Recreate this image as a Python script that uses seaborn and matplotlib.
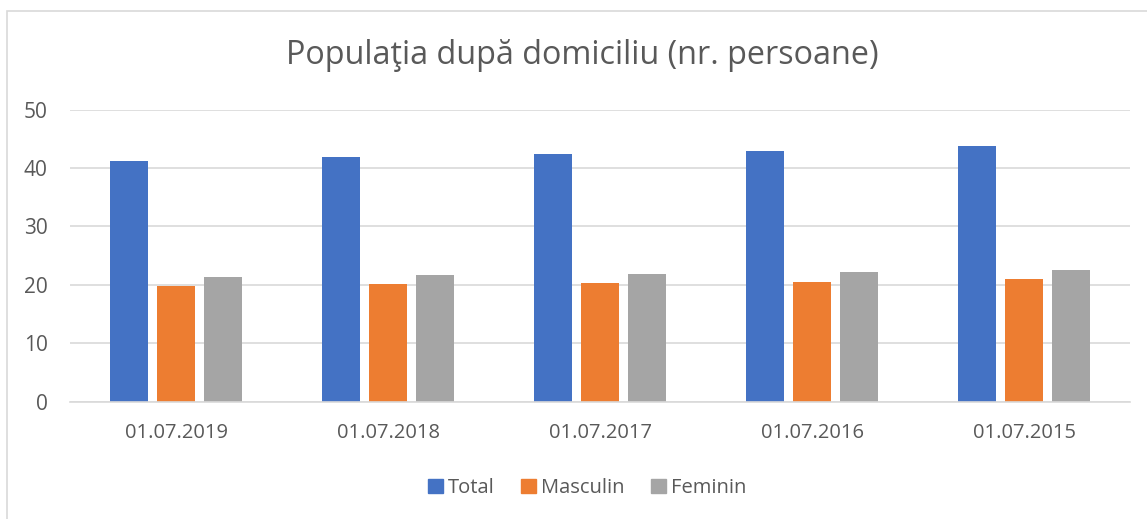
import pandas as pd
import matplotlib.pyplot as plt
import seaborn as sns
from matplotlib.patches import Rectangle

# Data
dates = ['01.07.2019', '01.07.2018', '01.07.2017', '01.07.2016', '01.07.2015']
total = [41.2, 41.85, 42.4, 42.9, 43.8]
masculin = [19.8, 20.1, 20.3, 20.55, 21.0]
feminin = [21.3, 21.6, 21.9, 22.2, 22.55]

series = ['Total', 'Masculin', 'Feminin']
colors = ['#4472c4', '#ed7d31', '#a5a5a5']

df = pd.DataFrame({'Data': dates * 3,
                   'Serie': [s for s in series for _ in dates],
                   'Valoare': total + masculin + feminin})

sns.set_style('white')
plt.rcParams['font.family'] = ['Open Sans', 'DejaVu Sans']
text_color = '#595959'

fig = plt.figure(figsize=(11.47, 5.19), dpi=100)
ax = fig.add_axes([70 / 1147, 1 - 401.7 / 519, 1060 / 1147, 292.2 / 519])

sns.barplot(data=df, x='Data', y='Valoare', hue='Serie', hue_order=series,
            palette=colors, width=0.668, gap=0.2, saturation=1,
            linewidth=0, ax=ax, legend=False)

ax.set_ylim(0, 50)
ax.set_yticks(range(0, 51, 10))
ax.set_xlim(-0.5, 4.5)
ax.yaxis.grid(True, color='#d9d9d9', linewidth=1.2)
ax.set_axisbelow(True)
for side in ['left', 'right', 'top']:
    ax.spines[side].set_visible(False)
ax.spines['bottom'].set_color('#d9d9d9')
ax.spines['bottom'].set_linewidth(1.2)
ax.set_xlabel('')
ax.set_ylabel('')
ax.tick_params(axis='both', length=0, labelsize=15, colors=text_color)
ax.tick_params(axis='x', labelsize=14.5, pad=15)
ax.tick_params(axis='y', pad=16)

fig.text(0.508, 1 - 56 / 519, 'Populaţia după domiciliu (nr. persoane)',
         ha='center', va='center', fontsize=23.3, color=text_color)

handles = [Rectangle((0, 0), 1, 1, color=c) for c in colors]
fig.legend(handles, series, loc='center', bbox_to_anchor=(0.512, 1 - 488 / 519),
           ncol=3, frameon=False, fontsize=14.5, handlelength=0.75, handleheight=0.75,
           handletextpad=0.25, columnspacing=1.3, labelcolor=text_color)

# chart border
fig.patches.append(Rectangle((7 / 1147, -0.01), 1.1, 1 - 11 / 519 + 0.01,
                             transform=fig.transFigure, fill=False,
                             edgecolor='#d9d9d9', linewidth=1.2))

fig.savefig('out.png', dpi=100, facecolor='white')
